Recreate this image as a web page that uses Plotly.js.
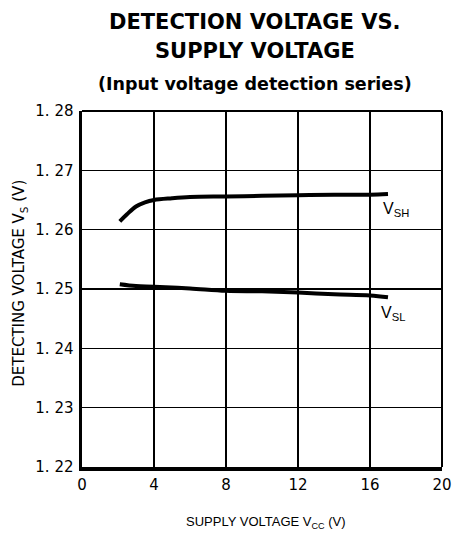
<!DOCTYPE html>
<html><head><meta charset="utf-8">
<script src="https://cdn.plot.ly/plotly-3.0.1.min.js"></script>
<style>html,body{margin:0;padding:0;background:#fff;}#chart{width:453px;height:543px;}</style>
</head><body><div id="chart"></div>
<script>
const vccSH = [2.1, 2.5, 3.0, 3.5, 4.0, 5.0, 6.0, 8.0, 10.0, 12.0, 14.0, 16.0, 17.0];
const vsSH  = [1.2614, 1.2626, 1.2639, 1.2646, 1.2650, 1.2653, 1.2655, 1.2656, 1.2657, 1.2658, 1.2659, 1.2659, 1.2660];
const vccSL = [2.1, 3.0, 4.0, 6.0, 8.0, 10.0, 12.0, 14.0, 16.0, 17.0];
const vsSL  = [1.2508, 1.2505, 1.2504, 1.2501, 1.2497, 1.2496, 1.2494, 1.2491, 1.2489, 1.2486];
const xTicks = [0, 4, 8, 12, 16, 20];
const yTicks = [1.22, 1.23, 1.24, 1.25, 1.26, 1.27, 1.28];
const yTickText = ["1. 22", "1. 23", "1. 24", "1. 25", "1. 26", "1. 27", "1. 28"];
const seriesLabels = ["V<sub>SH</sub>", "V<sub>SL</sub>"];

const font = "Liberation Sans, Arial, sans-serif";
const dfont = "DejaVu Sans, sans-serif";
const traces = [
  {x: vccSH, y: vsSH, mode: "lines", line: {color: "#000", width: 4, shape: "spline"}, hoverinfo: "skip"},
  {x: vccSL, y: vsSL, mode: "lines", line: {color: "#000", width: 4, shape: "spline"}, hoverinfo: "skip"}
];
const layout = {
  width: 453, height: 543,
  margin: {l: 82, r: 11, t: 111, b: 76},
  paper_bgcolor: "#fff", plot_bgcolor: "#fff",
  showlegend: false,
  font: {family: font, color: "#000", size: 14},
  xaxis: {range: [0, 20], tickvals: xTicks, ticktext: xTicks.map(String),
    showgrid: true, gridcolor: "#000", gridwidth: 1.5, zeroline: false,
    showline: true, linecolor: "#000", linewidth: 3.5, ticks: "", ticklabelstandoff: 1,
    tickfont: {family: dfont, size: 15}},
  yaxis: {range: [1.22, 1.28], tickvals: yTicks, ticktext: yTickText,
    showgrid: true, gridcolor: "#000", gridwidth: 1.5, zeroline: false,
    showline: true, linecolor: "#000", linewidth: 3.5, ticks: "", ticklabelstandoff: 2,
    tickfont: {family: dfont, size: 15}},
  shapes: [
    {type: "line", xref: "paper", yref: "paper", x0: 0, x1: 1, y0: 1, y1: 1, line: {color: "#000", width: 2}},
    {type: "line", xref: "paper", yref: "paper", x0: 1, x1: 1, y0: 0, y1: 1, line: {color: "#000", width: 2}}
  ],
  annotations: [
    {text: "<b>DETECTION VOLTAGE VS.</b>", xref: "paper", yref: "paper", x: 0.48, y: 1.25, xanchor: "center", yanchor: "middle", showarrow: false, font: {family: dfont, size: 21}},
    {text: "<b>SUPPLY VOLTAGE</b>", xref: "paper", yref: "paper", x: 0.48, y: 1.169, xanchor: "center", yanchor: "middle", showarrow: false, font: {family: dfont, size: 21}},
    {text: "<b>(Input voltage detection series)</b>", xref: "paper", yref: "paper", x: 0.48, y: 1.075, xanchor: "center", yanchor: "middle", showarrow: false, font: {family: dfont, size: 17.5}},
    {text: "DETECTING VOLTAGE V<sub>S</sub> (V)", xref: "paper", yref: "paper", x: -0.172, y: 0.515, xanchor: "center", yanchor: "middle", textangle: -90, showarrow: false, font: {family: dfont, size: 15}},
    {text: "SUPPLY VOLTAGE V<sub>CC</sub> (V)", xref: "paper", yref: "paper", x: 0.51, y: -0.155, xanchor: "center", yanchor: "middle", showarrow: false, font: {family: font, size: 13}},
    {text: seriesLabels[0], x: 16.6, y: 1.2634, xanchor: "left", showarrow: false, font: {family: font, size: 16}},
    {text: seriesLabels[1], x: 16.5, y: 1.2459, xanchor: "left", showarrow: false, font: {family: font, size: 16}}
  ]
};
Plotly.newPlot("chart", traces, layout, {staticPlot: true, displayModeBar: false});
</script></body></html>
